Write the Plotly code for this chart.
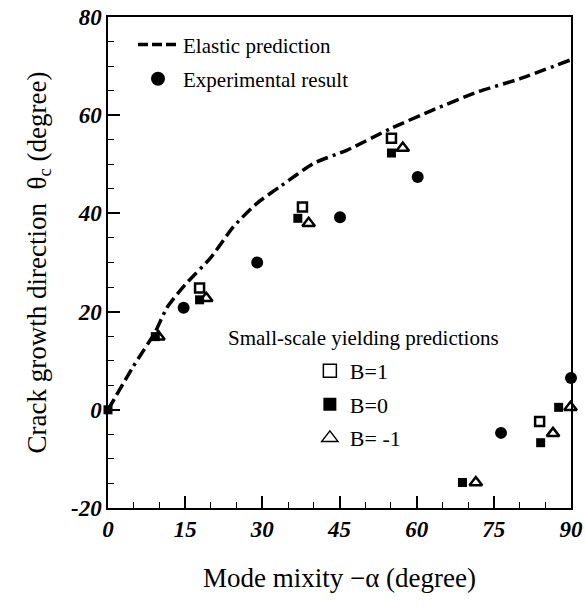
import plotly.graph_objects as go

# Elastic prediction curve
elastic_x = [0, 4.9, 9.2, 11.4, 15.0, 19.9, 24.4, 29.0, 33.5, 40.0, 46.5, 55.0, 63.0, 72.0, 80.0, 90.0]
elastic_y = [0, 8.8, 15.9, 20.7, 25.5, 30.9, 37.3, 42.1, 45.5, 50.2, 52.9, 57.3, 61.0, 64.8, 67.4, 71.3]

# Experimental result
exp_x = [14.7, 29.0, 45.1, 60.2, 76.4, 90.0]
exp_y = [20.8, 30.0, 39.2, 47.4, -4.7, 6.5]

# Small-scale yielding predictions
b1_x = [17.8, 37.8, 55.1, 83.9]
b1_y = [24.8, 41.3, 55.3, -2.4]

b0_x = [0, 9.2, 17.8, 36.9, 55.1, 68.9, 84.1, 87.6]
b0_y = [0, 14.9, 22.4, 39.0, 52.3, -14.8, -6.7, 0.5]

bm1_x = [9.8, 19.1, 39.0, 57.3, 71.5, 86.5, 89.9]
bm1_y = [14.9, 22.7, 38.0, 53.3, -14.8, -4.8, 0.5]

x_ticks = [0, 15, 30, 45, 60, 75, 90]
y_ticks = [-20, 0, 20, 40, 60, 80]

SERIF = "Liberation Serif"
DASH = "12px,5px,12px,5px,12px,5px,3px,5px"

fig = go.Figure()

# plotted data (no legend)
fig.add_trace(go.Scatter(x=elastic_x, y=elastic_y, mode="lines", showlegend=False,
                         line=dict(color="black", width=3.5, dash=DASH, shape="spline", smoothing=0.6),
                         cliponaxis=False))
fig.add_trace(go.Scatter(x=exp_x, y=exp_y, mode="markers", showlegend=False,
                         marker=dict(symbol="circle", size=12, color="black"), cliponaxis=False))
fig.add_trace(go.Scatter(x=b1_x, y=b1_y, mode="markers", showlegend=False,
                         marker=dict(symbol="square-open", size=9, color="black", line=dict(width=2.5)),
                         cliponaxis=False))
fig.add_trace(go.Scatter(x=b0_x, y=b0_y, mode="markers", showlegend=False,
                         marker=dict(symbol="square", size=9, color="black"), cliponaxis=False))
fig.add_trace(go.Scatter(x=bm1_x, y=bm1_y, mode="markers", showlegend=False,
                         marker=dict(symbol="triangle-up-open", size=11, color="black", line=dict(width=2.5)),
                         cliponaxis=False))

# legend entries
fig.add_trace(go.Scatter(x=[None], y=[None], mode="lines", name="Elastic prediction",
                         line=dict(color="black", width=3.5, dash="10px,4px,10px,4px,10px,4px,2px,4px"),
                         legend="legend", legendgroup="a"))
fig.add_trace(go.Scatter(x=[None], y=[None], mode="markers", name="Experimental result",
                         marker=dict(symbol="circle", size=14, color="black"),
                         legend="legend", legendgroup="b"))
fig.add_trace(go.Scatter(x=[None], y=[None], mode="markers", name="B=1",
                         marker=dict(symbol="square-open", size=13, color="black", line=dict(width=1.5)),
                         legend="legend2", legendgroup="c"))
fig.add_trace(go.Scatter(x=[None], y=[None], mode="markers", name="B=0",
                         marker=dict(symbol="square", size=13, color="black"),
                         legend="legend2", legendgroup="d"))
fig.add_trace(go.Scatter(x=[None], y=[None], mode="markers", name="B= -1",
                         marker=dict(symbol="triangle-up-open", size=14, color="black", line=dict(width=1.5)),
                         legend="legend2", legendgroup="e"))


def axis_common():
    return dict(
        showline=True, linecolor="black", linewidth=1.5, mirror=True,
        showgrid=False, zeroline=False, automargin=False, ticklabeloverflow="allow",
        ticks="inside", tickcolor="black", tickwidth=1.5, ticklen=12,
        tickfont=dict(family=SERIF, size=23, color="black", weight="bold", style="italic"),
        minor=dict(dtick=5, ticks="inside", ticklen=6, tickcolor="black", tickwidth=1.2),
    )


fig.update_layout(
    width=585, height=607,
    margin=dict(l=108, r=14, t=17, b=99),
    paper_bgcolor="white", plot_bgcolor="white",
    xaxis=dict(range=[0, 90], tickvals=x_ticks, ticktext=[str(v) for v in x_ticks],
               title=dict(text="Mode mixity \u2212\u03b1 (degree)",
                          font=dict(family=SERIF, size=27, color="black"), standoff=27),
               **axis_common()),
    yaxis=dict(range=[-20, 80], tickvals=y_ticks, ticktext=[str(v) for v in y_ticks],
               title=dict(text="Crack growth direction  \u03b8<sub>c</sub> (degree)",
                          font=dict(family=SERIF, size=27, color="black"), standoff=17),
               **axis_common()),
    legend=dict(x=0.054, y=0.985, xanchor="left", yanchor="top",
                font=dict(family=SERIF, size=21, color="black"),
                bgcolor="rgba(0,0,0,0)", tracegroupgap=4, itemwidth=40),
    legend2=dict(x=0.436, y=0.322, xanchor="left", yanchor="top",
                 font=dict(family=SERIF, size=22, color="black"),
                 bgcolor="rgba(0,0,0,0)", tracegroupgap=2),
    annotations=[dict(text="Small-scale yielding predictions", xref="paper", yref="paper",
                      x=0.255, y=0.346, xanchor="left", yanchor="middle", showarrow=False,
                      font=dict(family=SERIF, size=21, color="black"))],
)

fig.write_html("out.html", config={"displayModeBar": False},
               post_script="document.body.style.margin='0px';")
